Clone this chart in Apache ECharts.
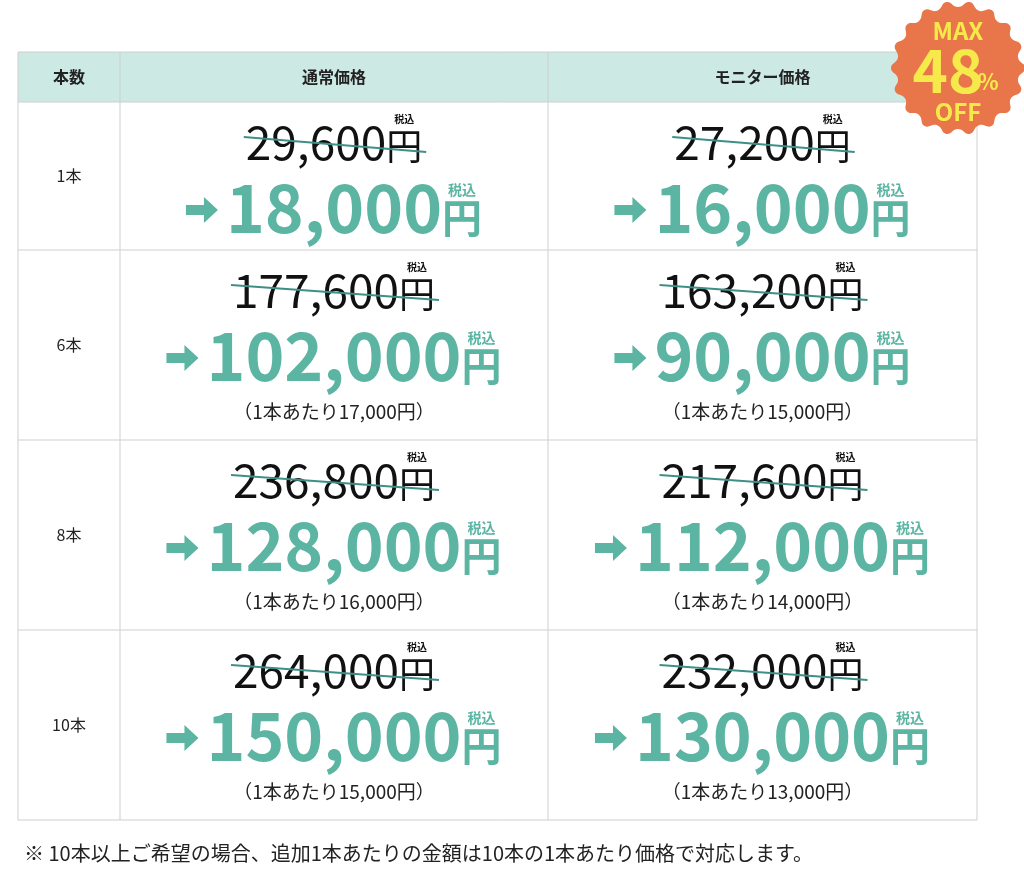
<!DOCTYPE html><html><head><meta charset="utf-8"><script src="https://cdn.jsdelivr.net/npm/echarts@6/dist/echarts.min.js"></script>
<style>html,body{margin:0;background:#fff}#c{width:1024px;height:890px}</style></head><body><div id="c"></div><script>
const headers = ['本数','通常価格','モニター価格'];
const counts = ['1本','6本','8本','10本'];
const regularOld = ['29,600','177,600','236,800','264,000'];
const regularNew = ['18,000','102,000','128,000','150,000'];
const regularUnit = ['','17,000','16,000','15,000'];
const monitorOld = ['27,200','163,200','217,600','232,000'];
const monitorNew = ['16,000','90,000','112,000','130,000'];
const monitorUnit = ['','15,000','14,000','13,000'];
const note = '※ 10本以上ご希望の場合、追加1本あたりの金額は10本の1本あたり価格で対応します。';
const badge = ['MAX','48','%','OFF'];

const F = '"Noto Sans CJK JP","Noto Sans",sans-serif';
const TEAL = '#5bb5a2';
const cv = document.createElement('canvas').getContext('2d');
function w(t, size, weight){ cv.font = (weight||'normal')+' '+size+'px '+F; return cv.measureText(t).width; }
const X = [18,120,548,977];
const Y = [52,102,250,440,630,820];
const g = [];
g.push({type:'rect',shape:{x:X[0],y:Y[0],width:X[3]-X[0],height:Y[1]-Y[0]},style:{fill:'#cce9e3'}});
for(let i=0;i<Y.length;i++) g.push({type:'line',shape:{x1:X[0],y1:Y[i],x2:X[3],y2:Y[i]},style:{stroke:'#cfcfcf',lineWidth:1}});
for(let j=0;j<X.length;j++) g.push({type:'line',shape:{x1:X[j],y1:Y[0],x2:X[j],y2:Y[5]},style:{stroke:'#cfcfcf',lineWidth:1}});
function txt(x,y,t,size,weight,color,align,base){ g.push({type:'text',x:x,y:y,style:{text:t,font:(weight||'normal')+' '+size+'px '+F,fill:color||'#222',align:align||'left',verticalAlign:base||'middle'}}); }
headers.forEach((h,j)=>txt((X[j]+X[j+1])/2,(Y[0]+Y[1])/2,h,16,'bold','#222','center'));
function priceCell(cx, yOld, yNew, yUnit, oldV, newV, unit){
  const s1=46, s2=36;
  const w1=w(oldV,s1), w2=w('円',s2), tot=w1+w2, x0=cx-tot/2;
  txt(x0,yOld,oldV,s1,'normal','#111');
  txt(x0+w1,yOld+3,'円',s2,'normal','#111');
  txt(x0+w1+w2/2,yOld-24,'税込',10,'bold','#111','center');
  g.push({type:'line',shape:{x1:x0-2,y1:yOld-6,x2:x0+tot+4,y2:yOld+9},style:{stroke:'#3e8f86',lineWidth:2.2}});
  const n1=66, n2=40, aw=34;
  const v1=w(newV,n1,'bold'), v2=w('円',n2,'bold'), t2=aw+6+v1+v2, nx=cx-t2/2;
  const ay=yNew;
  g.push({type:'polygon',shape:{points:[[nx,ay-5],[nx+18,ay-5],[nx+18,ay-13],[nx+32,ay],[nx+18,ay+13],[nx+18,ay+5],[nx,ay+5]]},style:{fill:TEAL}});
  txt(nx+aw+6,yNew-2,newV,n1,'bold',TEAL);
  txt(nx+aw+6+v1,yNew+8,'円',n2,'bold',TEAL);
  txt(nx+aw+6+v1+v2/2,yNew-20,'税込',14,'bold',TEAL,'center');
  if(unit) txt(cx,yUnit,'（1本あたり'+unit+'円）',19,'normal','#222','center');
}
counts.forEach((c,i)=>{
  const top=Y[i+1], bot=Y[i+2];
  txt((X[0]+X[1])/2,(top+bot)/2,c,16,'normal','#222','center');
  const yo = top+41, yn = top+108, yu = top+162;
  priceCell((X[1]+X[2])/2, yo, yn, yu, regularOld[i], regularNew[i], regularUnit[i]);
  priceCell((X[2]+X[3])/2, yo, yn, yu, monitorOld[i], monitorNew[i], monitorUnit[i]);
});
txt(24,853,note,20,'normal','#222');
const bx=958, by=68, pts=[];
for(let k=0;k<36;k++){ const r = k%2? 61:67; const a=k/36*Math.PI*2; pts.push([bx+r*Math.cos(a),by+r*Math.sin(a)]); }
g.push({type:'polygon',shape:{points:pts,smooth:0.5},style:{fill:'#e8764a'}});
txt(bx,by-37,badge[0],24,'bold','#f6ea4b','center');
txt(bx-10,by+2,badge[1],60,'bold','#f6ea4b','center');
txt(bx+30,by+14,badge[2],22,'bold','#f6ea4b','center');
txt(bx,by+44,badge[3],24,'bold','#f6ea4b','center');
const chart = echarts.init(document.getElementById('c'));
chart.setOption({animation:false,graphic:{elements:g}});
</script></body></html>
